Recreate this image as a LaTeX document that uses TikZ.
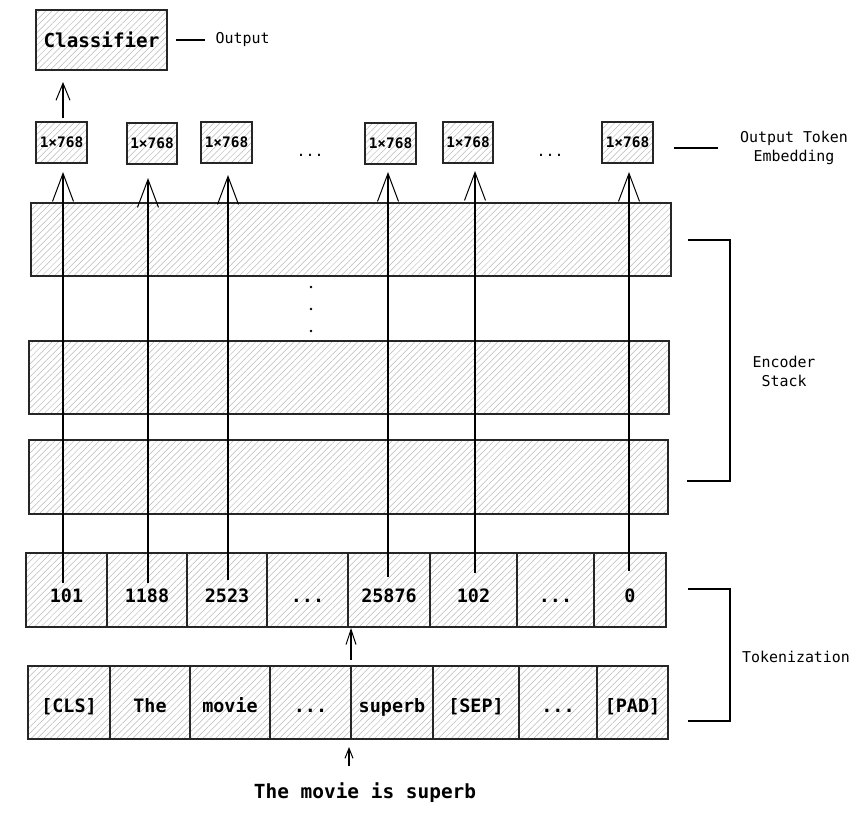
\documentclass[tikz,border=0pt]{standalone}
\usepackage{fontspec}
\setmonofont{DejaVu Sans Mono}
\usetikzlibrary{arrows.meta,patterns.meta}
\newcommand\tdots{...}
\begin{document}
\begin{tikzpicture}[x=1bp,y=-1bp,line width=1.2bp,
  hatch/.style={draw=black!85,pattern={Lines[angle=45,distance=4.5bp,line width=0.5bp]},pattern color=black!28},
  box/.style={hatch,inner sep=0pt,outer sep=0pt,anchor=center},
  celltxt/.style={font=\ttfamily\bfseries\fontsize{18.5}{22}\selectfont},
  embtxt/.style={font=\ttfamily\bfseries\fontsize{14.5}{17}\selectfont},
  lbl/.style={font=\ttfamily\fontsize{15}{19}\selectfont,align=center,inner sep=0pt},
  bigarrow/.style={-{Straight Barb[length=28bp,width=21bp,line width=1bp]}},
  midarrow/.style={-{Straight Barb[length=17bp,width=14bp,line width=1bp]}},
  smallarrow/.style={-{Straight Barb[length=15bp,width=10bp,line width=1bp]}},
  tinyarrow/.style={-{Straight Barb[length=10bp,width=8bp,line width=1bp]}}]
\useasboundingbox (0,0) rectangle (863,814);

% Classifier
\node[box,minimum width=131bp,minimum height=60bp,font=\ttfamily\bfseries\fontsize{19.3}{23}\selectfont] (cls) at (101.5,40) {Classifier};
\node[lbl,anchor=west] (outl) at (215,40) {Output};
\draw ([xshift=9bp]cls.east) -- ([xshift=-10bp]outl.west);

% encoder layers
\node[box,minimum width=640bp,minimum height=73bp] (L1) at (351,239.5) {};
\node[box,minimum width=640bp,minimum height=73bp] (L2) at (349,377.5) {};
\node[box,minimum width=639bp,minimum height=74bp] (L3) at (348.5,477) {};
\foreach \yy in {287,309,331} \fill (311,\yy) circle (1.3bp);

% output embeddings
\foreach \i/\l/\t/\r/\b in {1/36/122/87/163,2/127/123/177/164,3/201/122/252/163,4/365/123/416/164,5/443/122/493/163,6/602/122/653/163}{
  \pgfmathsetmacro\ww{\r-\l}\pgfmathsetmacro\hh{\b-\t}
  \pgfmathsetmacro\cx{(\l+\r)/2}\pgfmathsetmacro\cy{(\t+\b)/2}
  \node[box,embtxt,minimum width=\ww bp,minimum height=\hh bp] (e\i) at (\cx,\cy) {1×768};
}
\node[font=\ttfamily\fontsize{15}{18}\selectfont,inner sep=0pt] (d1) at (310,155) {\tdots};
\node[font=\ttfamily\fontsize{15}{18}\selectfont,inner sep=0pt] (d2) at (550,155) {\tdots};
\node[lbl] (otel) at (794,148) {Output Token\\Embedding};
\draw ([xshift=-21bp]otel.west) -- ([xshift=-65bp]otel.west);

% token ids
\foreach \i/\l/\r/\t in {1/26/107/101,2/107/187/1188,3/187/267/2523,4/267/348/\tdots,5/348/430/25876,6/430/517/102,7/517/594/\tdots,8/594/666/0}{
  \pgfmathsetmacro\ww{\r-\l}\pgfmathsetmacro\cx{(\l+\r)/2}
  \node[box,celltxt,minimum width=\ww bp,minimum height=74bp,text height=24bp,text depth=0bp] (t\i) at (\cx,590) {\t};
}
% words
\foreach \i/\l/\r/\t in {1/28/110/{[CLS]},2/110/190/The,3/190/270/movie,4/270/351/\tdots,5/351/433/superb,6/433/519/{[SEP]},7/519/597/\tdots,8/597/668/{[PAD]}}{
  \pgfmathsetmacro\ww{\r-\l}\pgfmathsetmacro\cx{(\l+\r)/2}
  \node[box,celltxt,minimum width=\ww bp,minimum height=73bp,text height=20bp,text depth=0bp] (w\i) at (\cx,702.5) {\t};
}

% arrows tokens -> embeddings
\foreach \i/\x/\s/\o in {1/63/583/9,2/148/583/14,3/228/580/12,4/388/577/8,5/475/573/8,6/629/571/9}{
  \coordinate (s\i) at (\x,\s);
  \draw[bigarrow] (s\i) -- ([yshift=-\o bp]s\i |- e\i.south);
}
% classifier arrow
\coordinate (ca) at (63,118);
\draw[midarrow] (ca) -- ([yshift=-12bp]ca |- cls.south);

% words -> tokens
\draw[smallarrow] ([yshift=6bp]w5.north west) -- ([yshift=-1bp]w5.north west |- t5.south);

% input text
\node[font=\ttfamily\bfseries\fontsize{19.5}{23}\selectfont,inner sep=0pt] (inp) at (365,793) {The movie is superb};
\coordinate (ia) at (349,766);
\draw[tinyarrow] (ia) -- ([yshift=-8bp]ia |- w5.south);

% brackets
\draw (688,240) -- (730,240) -- (730,481) -- (687,481);
\node[lbl] (enc) at (784,371) {Encoder\\Stack};
\draw (688,589) -- (730,589) -- (730,721) -- (688,721);
\node[lbl] (tok) at (796,657) {Tokenization};
\end{tikzpicture}
\end{document}
